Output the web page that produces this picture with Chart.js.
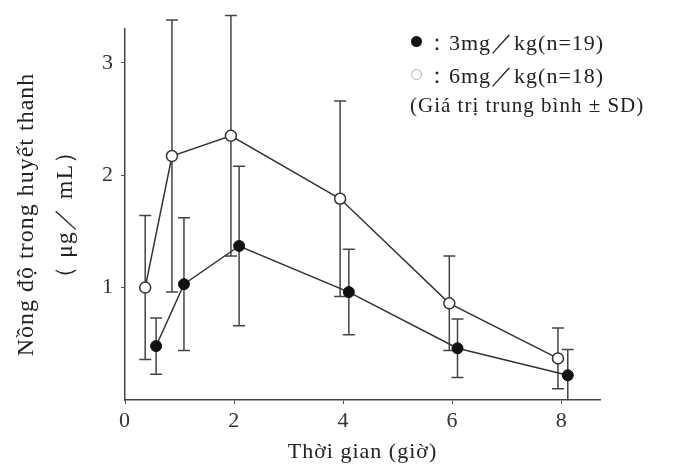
<!DOCTYPE html>
<html>
<head>
<meta charset="utf-8">
<script src="https://cdn.jsdelivr.net/npm/chart.js@4.4.1/dist/chart.umd.min.js"></script>
<style>
  html, body { margin: 0; padding: 0; background: #fff; }
  #wrap { position: relative; width: 688px; height: 468px; }
  #legend { position: absolute; left: 0; top: 0; font-family: "Liberation Serif", serif; color: #222; }
  .row { position: absolute; white-space: nowrap; }
  .dot { position: absolute; width: 11px; height: 11px; border-radius: 50%; box-sizing: border-box; }
</style>
</head>
<body>
<div id="wrap">
  <canvas id="myChart" width="688" height="468"></canvas>
  <div id="legend">
    <span class="dot" style="left:411px; top:36px; background:#111;"></span>
    <div class="row" style="left:426px; top:28px; font-size:22px; letter-spacing:1px;">：3mg／kg(n=19)</div>
    <span class="dot" style="left:411px; top:69px; border:1.5px solid #aaa; background:#fff;"></span>
    <div class="row" style="left:426px; top:61px; font-size:22px; letter-spacing:1px;">：6mg／kg(n=18)</div>
    <div class="row" style="left:410px; top:93px; font-size:21px; letter-spacing:1px;">(Giá trị trung bình ± SD)</div>
  </div>
</div>
<script>
// time points (h), slightly offset per group as in the original figure
const times3 = [0.57, 1.08, 2.09, 4.1, 6.09, 8.11];
const mean3 = [0.48, 1.03, 1.37, 0.96, 0.46, 0.22];
const sd3 = [0.25, 0.59, 0.71, 0.38, 0.26, 0.23];

const times6 = [0.37, 0.86, 1.94, 3.94, 5.94, 7.93];
const mean6 = [1.0, 2.17, 2.35, 1.79, 0.86, 0.37];
const sd6 = [0.64, 1.21, 1.07, 0.87, 0.42, 0.27];

const xTicks = [0, 2, 4, 6, 8];
const yTicks = [1, 2, 3];

const fontFamily = '"Liberation Serif", serif';

// a little extra letter spacing for axis texts, like the scanned figure
const spacing = {
    id: 'spacing',
    beforeDraw(chart) { chart.ctx.letterSpacing = '1px'; },
    beforeDatasetsDraw(chart) { chart.ctx.letterSpacing = '0px'; }
};

// draws mean ± SD bars using the chart scales
const errorBars = {
    id: 'errorBars',
    beforeDatasetsDraw(chart) {
        const ctx = chart.ctx;
        const xs = chart.scales.x;
        const ys = chart.scales.y;
        chart.data.datasets.forEach(ds => {
            ctx.save();
            ctx.strokeStyle = '#444';
            ctx.lineWidth = 1.5;
            ds.data.forEach((p, i) => {
                const sd = ds.sd[i];
                const px = xs.getPixelForValue(p.x);
                const top = ys.getPixelForValue(p.y + sd);
                const bot = Math.min(ys.getPixelForValue(Math.max(p.y - sd, 0)), ys.bottom);
                ctx.beginPath();
                ctx.moveTo(px, top);
                ctx.lineTo(px, bot);
                ctx.moveTo(px - 6, top);
                ctx.lineTo(px + 6, top);
                if (bot < ys.bottom - 1) {
                    ctx.moveTo(px - 6, bot);
                    ctx.lineTo(px + 6, bot);
                }
                ctx.stroke();
            });
            ctx.restore();
        });
    }
};

const ctx = document.getElementById('myChart').getContext('2d');
new Chart(ctx, {
    type: 'scatter',
    data: {
        datasets: [
            {
                label: '3mg/kg',
                data: times3.map((t, i) => ({ x: t, y: mean3[i] })),
                sd: sd3,
                showLine: true,
                borderColor: '#333',
                borderWidth: 1.5,
                pointRadius: 5.5,
                pointBackgroundColor: '#111',
                pointBorderColor: '#111',
                pointBorderWidth: 1
            },
            {
                label: '6mg/kg',
                data: times6.map((t, i) => ({ x: t, y: mean6[i] })),
                sd: sd6,
                showLine: true,
                borderColor: '#333',
                borderWidth: 1.5,
                pointRadius: 5.5,
                pointBackgroundColor: '#fff',
                pointBorderColor: '#333',
                pointBorderWidth: 1.5
            }
        ]
    },
    options: {
        responsive: false,
        animation: false,
        clip: false,
        layout: { padding: { top: 29, right: 88, bottom: 0, left: 0 } },
        plugins: {
            legend: { display: false },
            tooltip: { enabled: false }
        },
        scales: {
            x: {
                type: 'linear',
                min: 0,
                max: 8.7,
                afterBuildTicks: s => { s.ticks = xTicks.map(v => ({ value: v })); },
                afterFit: s => { s.height = 68; },
                grid: { drawOnChartArea: false, drawTicks: true, tickLength: 4, color: '#555' },
                border: { display: true, color: '#444', width: 1.5 },
                ticks: { color: '#333', padding: 4, maxRotation: 0, font: { family: fontFamily, size: 22 } },
                title: {
                    display: true,
                    text: 'Thời gian (giờ)',
                    color: '#222',
                    padding: { top: 0, bottom: 3 },
                    font: { family: fontFamily, size: 22 }
                }
            },
            y: {
                min: 0,
                max: 3.3,
                afterBuildTicks: s => { s.ticks = yTicks.map(v => ({ value: v })); },
                afterFit: s => { s.width = 125; },
                grid: { drawOnChartArea: false, drawTicks: true, tickLength: 4, color: '#555' },
                border: { display: true, color: '#444', width: 1.5 },
                ticks: { color: '#333', padding: 7, font: { family: fontFamily, size: 22 } },
                title: {
                    display: true,
                    text: ['Nồng độ trong huyết thanh', '（ μg／ mL）'],
                    color: '#222',
                    padding: { top: 8, bottom: 0 },
                    font: { family: fontFamily, size: 24, lineHeight: 1.6 }
                }
            }
        }
    },
    plugins: [spacing, errorBars]
});
</script>
</body>
</html>
